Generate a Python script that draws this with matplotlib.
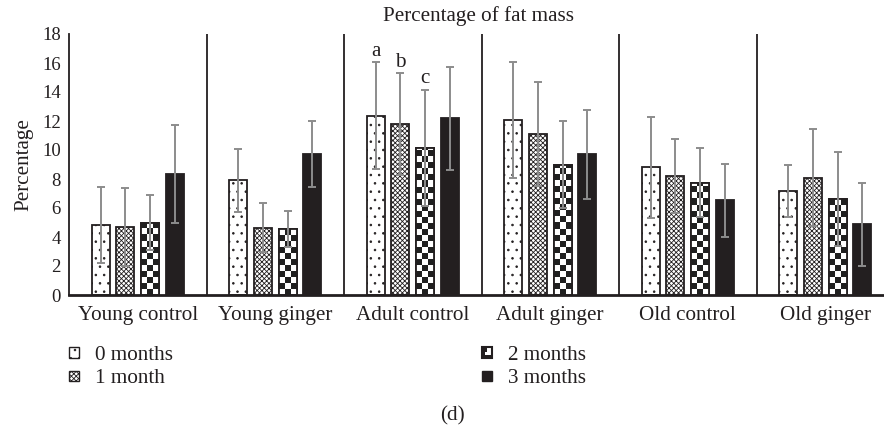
import numpy as np
import matplotlib
matplotlib.use("Agg")
import matplotlib.pyplot as plt
from matplotlib.patches import Rectangle
from matplotlib.legend_handler import HandlerBase

plt.rcParams['font.family'] = ['Liberation Serif', 'DejaVu Serif']
plt.rcParams['hatch.linewidth'] = 0.6

categories = ["Young control", "Young ginger", "Adult control", "Adult ginger", "Old control", "Old ginger"]
series_names = ["0 months", "1 month", "2 months", "3 months"]
m0 = [4.83, 7.91, 12.37, 12.07, 8.80, 7.20]
m1 = [4.69, 4.64, 11.79, 11.10, 8.18, 8.09]
m2 = [4.99, 4.55, 10.16, 8.97, 7.75, 6.62]
m3 = [8.34, 9.72, 12.20, 9.70, 6.53, 4.87]
e0 = [2.60, 2.16, 3.68, 4.00, 3.50, 1.80]
e1 = [2.67, 1.70, 3.50, 3.60, 2.55, 3.35]
e2 = [1.90, 1.23, 4.00, 3.00, 2.40, 3.23]
e3 = [3.36, 2.25, 3.55, 3.08, 2.50, 2.84]
annotations = ["a", "b", "c"]  # over Adult control, months 0..2
yticks = [0, 2, 4, 6, 8, 10, 12, 14, 16, 18]

means = [m0, m1, m2, m3]
errs = [e0, e1, e2, e3]

W, H = 884, 428
FS = 15.2
TXT = '#231f20'
fig = plt.figure(figsize=(W / 100, H / 100), dpi=100)
ax = fig.add_axes([69 / W, 133 / H, 825 / W, 261 / H])
ax.set_xlim(-0.5, 5.5)
ax.set_ylim(0, 18)

x = np.arange(len(categories))
offsets = [-0.27, -0.09, 0.09, 0.27]
bw = 0.13
dark = '#231f20'
ecol = '#8c8c8c'

styles = [
    dict(facecolor='white', edgecolor=dark, hatch='..'),
    dict(facecolor='white', edgecolor=dark, hatch='xxxxxxx'),
    dict(facecolor='white', edgecolor=dark, hatch=None),
    dict(facecolor=dark, edgecolor=dark, hatch=None),
]

# checker cell size in data units (~6 px)
cell_h = 6 / (261 / 18)

for i in range(4):
    bars = ax.bar(x + offsets[i], means[i], width=bw, linewidth=1.3, zorder=2, **styles[i])
    if i == 2:
        for b in bars:
            x0 = b.get_x()
            w = b.get_width()
            h = b.get_height()
            nrows = int(np.ceil(h / cell_h))
            arr = np.indices((nrows, 3)).sum(axis=0) % 2
            im = ax.imshow(arr, cmap='gray_r', vmin=0, vmax=1.15, origin='lower',
                           extent=[x0, x0 + w, 0, nrows * cell_h], aspect='auto',
                           interpolation='nearest', zorder=2.5)
            im.set_clip_path(b)
            ax.add_patch(Rectangle((x0, 0), w, h, fill=False, edgecolor=dark, linewidth=1.3, zorder=2.6))
    ax.errorbar(x + offsets[i], means[i], yerr=errs[i], fmt='none', ecolor=ecol,
                elinewidth=1.4, capsize=3, capthick=1.4, zorder=3)

for k, lab in enumerate(annotations):
    ax.text(2 + offsets[k], means[k][2] + errs[k][2] + 0.12, lab, ha='center', va='bottom',
            fontsize=FS, color=TXT)

ax.set_xlim(-0.5, 5.5)
ax.set_ylim(0, 18)

for sep in np.arange(0.5, 5.5, 1.0):
    ax.axvline(sep, color=dark, linewidth=1.3, zorder=1)

for s in ['top', 'right']:
    ax.spines[s].set_visible(False)
ax.spines['left'].set_linewidth(1.3)
ax.spines['left'].set_color(dark)
ax.spines['bottom'].set_linewidth(2)
ax.spines['bottom'].set_color(dark)

ax.set_yticks(yticks)
ax.set_yticklabels([str(v) for v in yticks])
ax.set_xticks(x)
ax.set_xticklabels(categories)
ax.tick_params(axis='both', length=0, labelsize=FS, colors=TXT)
ax.tick_params(axis='y', labelsize=13.5, pad=6)
ax.tick_params(axis='x', pad=8)

ax.set_ylabel("Percentage", fontsize=FS, color=TXT)
ax.yaxis.set_label_coords(-(69 - 33) / 825, 0.5)
fig.text(479 / W, 1 - 16 / H, "Percentage of fat mass", ha='center', va='center',
         fontsize=FS, color=TXT)
fig.text(452 / W, 1 - 416 / H, "(d)", ha='center', va='center', fontsize=FS, color=TXT)


class CheckerHandler(HandlerBase):
    def create_artists(self, legend, orig_handle, xdescent, ydescent, width, height, fontsize, trans):
        s = min(width, height)
        x0 = -xdescent + (width - s) / 2
        y0 = -ydescent + (height - s) / 2
        arts = [Rectangle((x0, y0), s, s, facecolor='white', edgecolor=dark, linewidth=1.5, transform=trans)]
        arts.append(Rectangle((x0, y0 + s / 2), s / 2, s / 2, facecolor=dark, edgecolor='none', transform=trans))
        arts.append(Rectangle((x0, y0), s, s / 4, facecolor=dark, edgecolor='none', transform=trans))
        arts.append(Rectangle((x0, y0), s / 4, s, facecolor=dark, edgecolor='none', transform=trans))
        return arts


class SquareHandler(HandlerBase):
    def create_artists(self, legend, orig_handle, xdescent, ydescent, width, height, fontsize, trans):
        s = min(width, height)
        x0 = -xdescent + (width - s) / 2
        y0 = -ydescent + (height - s) / 2
        r = Rectangle((x0, y0), s, s, facecolor=orig_handle.get_facecolor(), edgecolor=dark,
                      linewidth=1, hatch=orig_handle.get_hatch(), transform=trans)
        return [r]


handles = [Rectangle((0, 0), 1, 1, **styles[i]) for i in range(4)]
hmap = {h: (CheckerHandler() if i == 2 else SquareHandler()) for i, h in enumerate(handles)}

legkw = dict(loc='upper left', frameon=False, fontsize=FS, borderpad=0, borderaxespad=0,
             handlelength=0.48, handleheight=0.48, handletextpad=0.75, labelspacing=0.2,
             handler_map=hmap)
leg1 = fig.legend(handles[:2], series_names[:2], bbox_to_anchor=(69 / W, 1 - 346 / H), **legkw)
leg2 = fig.legend(handles[2:], series_names[2:], bbox_to_anchor=(482 / W, 1 - 346 / H), **legkw)
for lg in (leg1, leg2):
    for t in lg.get_texts():
        t.set_color(TXT)

fig.savefig("out.png", dpi=100)
